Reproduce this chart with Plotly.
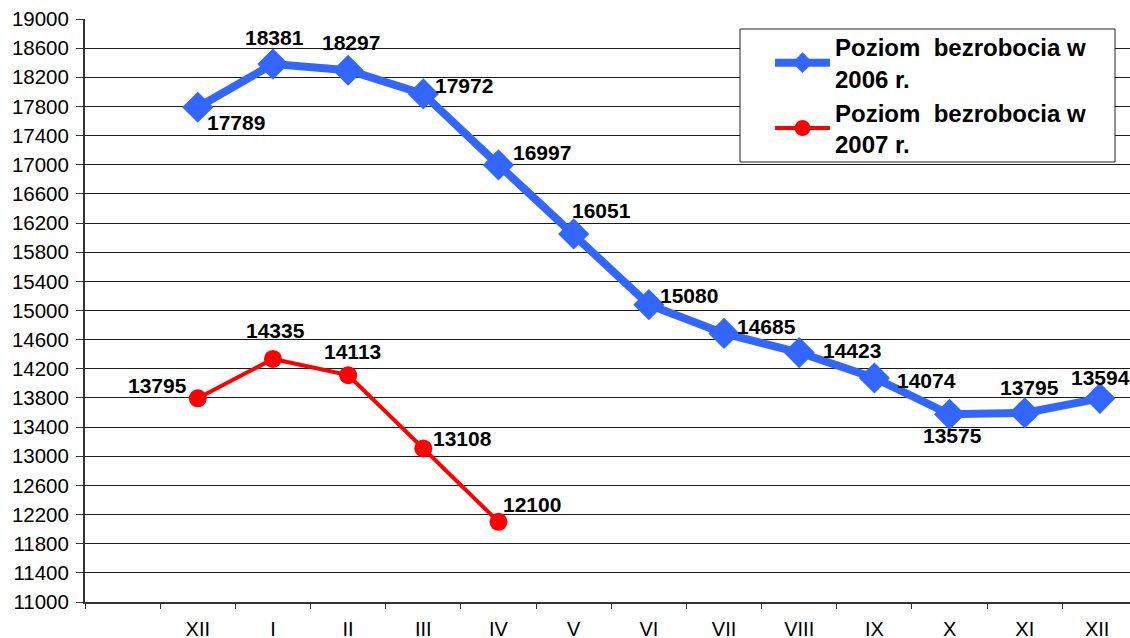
import plotly.graph_objects as go

# Category axis: leading empty slot, then XII (prev. year), I..XII
months = [" ", "XII", "I", "II", "III", "IV", "V", "VI", "VII", "VIII", "IX", "X", "XI", "XII "]

y2006 = [17789, 18381, 18297, 17972, 16997, 16051, 15080, 14685, 14423, 14074, 13575, 13594, 13795]
labels2006 = ["17789", "18381", "18297", "17972", "16997", "16051", "15080", "14685",
              "14423", "14074", "13575", "13795", "13594"]
y2007 = [13795, 14335, 14113, 13108, 12100]
labels2007 = ["13795", "14335", "14113", "13108", "12100"]

name2006 = "Poziom  bezrobocia w<br>2006 r."
name2007 = "Poziom  bezrobocia w<br>2007 r."

# label offsets (px) relative to each point
off2006 = [(38, -15), (2, 27), (3, 28), (41, 8), (44, 12), (28, 23), (40, 9), (42, 7),
           (53, 2), (52, -3), (3, -21), (5, 25), (1, 21)]
off2007 = [(-40, 13), (3, 28), (4, 24), (39, 10), (34, 17)]

BLUE = "#3366FF"
RED = "#FF0000"
FONT = "Liberation Sans, Arial, sans-serif"

x2006 = months[1:1 + len(y2006)]
x2007 = months[1:1 + len(y2007)]

fig = go.Figure()
fig.add_trace(go.Scatter(
    x=x2006, y=y2006, mode="lines+markers", name=name2006,
    line=dict(color=BLUE, width=8),
    marker=dict(symbol="diamond", size=24, color=BLUE),
))
fig.add_trace(go.Scatter(
    x=x2007, y=y2007, mode="lines+markers", name=name2007,
    line=dict(color=RED, width=4),
    marker=dict(symbol="circle", size=18, color=RED),
))

annotations = []
for xs, ys, labs, offs in ((x2006, y2006, labels2006, off2006), (x2007, y2007, labels2007, off2007)):
    for xv, yv, t, (dx, dy) in zip(xs, ys, labs, offs):
        annotations.append(dict(
            x=xv, y=yv, text="<b>%s</b>" % t, showarrow=False,
            xanchor="center", yanchor="middle", xshift=dx, yshift=dy,
            font=dict(family=FONT, size=21, color="black"),
        ))

L, R, T, B = 85, 0, 19, 36
W, H = 1130, 638
pw, ph = W - L - R, H - T - B

def px_x(p):
    return (p - L) / pw

def px_y(p):
    return (H - B - p) / ph

fig.update_layout(
    width=W, height=H,
    margin=dict(l=L, r=R, t=T, b=B, pad=0, autoexpand=False),
    paper_bgcolor="white", plot_bgcolor="white",
    font=dict(family=FONT, color="black"),
    annotations=annotations,
    showlegend=True,
    legend=dict(
        x=px_x(770), y=px_y(25), xanchor="left", yanchor="top",
        bgcolor="rgba(0,0,0,0)", borderwidth=0,
        font=dict(family=FONT, size=24, color="black", weight="bold"),
        itemwidth=55, tracegroupgap=14,
    ),
    shapes=[dict(
        type="rect", xref="paper", yref="paper",
        x0=px_x(740), x1=px_x(1115), y0=px_y(162), y1=px_y(29),
        line=dict(color="#222", width=1), fillcolor="white", layer="above",
    )],
    xaxis=dict(
        type="category", categoryorder="array", categoryarray=months,
        range=[-0.5, 13.4], tickson="boundaries", ticks="outside", ticklen=5,
        tickcolor="#333", tickwidth=1, automargin=False,
        showline=True, linecolor="#333", linewidth=2,
        showgrid=False, tickfont=dict(family=FONT, size=20, color="black"),
        ticklabelstandoff=8, zeroline=False,
    ),
    yaxis=dict(
        range=[11000, 19000], dtick=400, tick0=11000, tickformat="d",
        ticks="outside", ticklen=7, tickcolor="#333", tickwidth=1, automargin=False,
        showline=True, linecolor="#333", linewidth=2,
        showgrid=True, gridcolor="#1a1a1a", gridwidth=1,
        tickfont=dict(family=FONT, size=20.5, color="black"),
        ticklabelstandoff=3, zeroline=False,
    ),
)

fig.write_html("out.html", config={"displayModeBar": False},
               post_script="document.body.style.margin='0';document.body.style.overflow='hidden';")
